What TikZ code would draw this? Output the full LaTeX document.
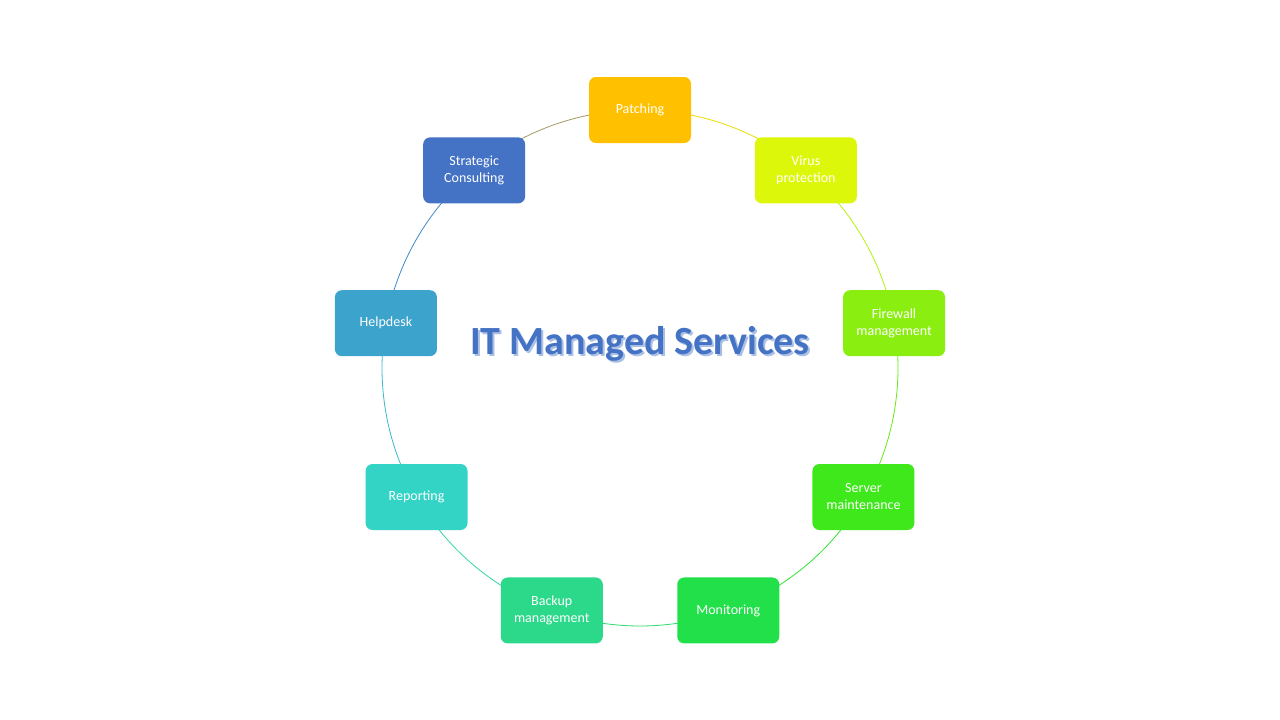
\documentclass[tikz,border=0pt]{standalone}
\usepackage{fontspec}
\setmainfont{Carlito}
\definecolor{c1}{HTML}{FFC000}
\definecolor{c2}{HTML}{DDF70A}
\definecolor{c3}{HTML}{8AEF10}
\definecolor{c4}{HTML}{3EE81A}
\definecolor{c5}{HTML}{22E04A}
\definecolor{c6}{HTML}{2CD98A}
\definecolor{c7}{HTML}{33D4C6}
\definecolor{c8}{HTML}{3BA3CC}
\definecolor{c9}{HTML}{4472C4}
\tikzset{svc/.style={rounded corners=7pt, minimum width=102pt, minimum height=66pt, text width=95pt, align=center, text=white, font=\fontsize{14}{17}\selectfont, inner sep=0pt}}
\begin{document}
\begin{tikzpicture}[x=1pt,y=-1pt]
\useasboundingbox (0,0) rectangle (1280,720);
\fill[white] (0,0) rectangle (1280,720);
\def\cx{640}\def\cy{368}\def\r{258}
\foreach \a/\ca/\cb in {90/c1/c2,50/c2/c3,10/c3/c4,-30/c4/c5,-70/c5/c6,-110/c6/c7,-150/c7/c8,-190/c8/c9,-230/c9/c1}{
  \draw[color=\ca!50!\cb, line width=0.8pt] ({\cx+\r*cos(\a)},{\cy-\r*sin(\a)}) arc[start angle=-\a, end angle=-\a+40, radius=\r];
}
\foreach \n/\a/\c/\t in {p/90/c1/Patching, v/50/c2/{Virus\\protection}, f/10/c3/{Firewall\\management}, s/-30/c4/{Server\\maintenance}, m/-70/c5/Monitoring, b/-110/c6/{Backup\\management}, r/-150/c7/Reporting, h/170/c8/Helpdesk, sc/130/c9/{Strategic\\Consulting}}{
  \node[svc, fill=\c] (\n) at ({\cx+\r*cos(\a)},{\cy-\r*sin(\a)}) {\t};
}
\node[text=c9!45, font=\bfseries\fontsize{40}{48}\selectfont] (t0) at (642,346) {IT Managed Services};
\node[text=c9, font=\bfseries\fontsize{40}{48}\selectfont] (t) at (640,344) {IT Managed Services};
\end{tikzpicture}
\end{document}
